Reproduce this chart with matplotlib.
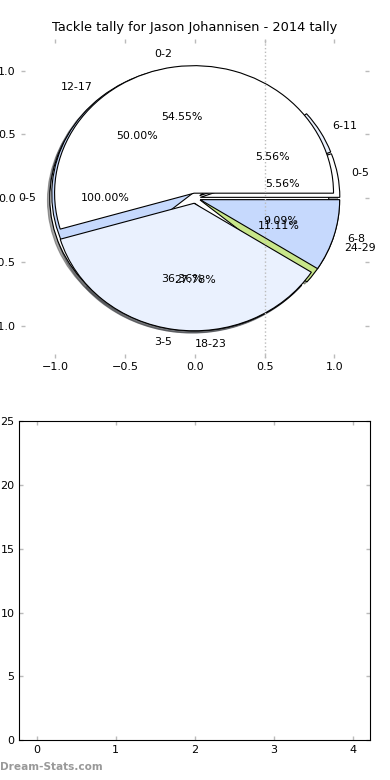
import matplotlib
matplotlib.use("Agg")
import matplotlib.pyplot as plt

# tally buckets, three overlapping pies as in the original
labels_a = ['0-2', '3-5', '6-8']
tally_a = [6, 4, 1]
labels_b = ['0-5', '6-11', '12-17', '18-23', '24-29']
tally_b = [1, 1, 9, 5, 2]
labels_c = ['0-5']
tally_c = [1]

xticks_bar = [0, 1, 2, 3, 4]
yticks_bar = [0, 5, 10, 15, 20, 25]
pie_ticks = [-1.0, -0.5, 0.0, 0.5, 1.0]

COLORS = ['#ffffff', '#eaf1fe', '#c6d9fd', '#dbe7fc', '#c8e68a']
TICK_GREY = '#bbbbbb'

fig = plt.figure(figsize=(3.9, 7.8), dpi=100)

ax = fig.add_axes([0.0526, 0.5415, 0.894, 0.4087])
wp = {'edgecolor': 'black', 'linewidth': 0.8}
tp = {'fontsize': 7.9}
shadow = {'ox': -0.012, 'oy': -0.012, 'label': '_nolegend_'}
for vals, labs in ((tally_c, labels_c), (tally_b, labels_b), (tally_a, labels_a)):
    ax.pie(vals, labels=labs, colors=COLORS[:len(vals)],
           explode=[0.04] * len(vals), autopct='%1.2f%%', shadow=shadow,
           wedgeprops=wp, textprops=tp, frame=True)

ax.axvline(0.5, color=TICK_GREY, linestyle=':', linewidth=1)
ax.set_aspect('auto')
ax.set_frame_on(False)
ax.set_xlim(-1.25, 1.25)
ax.set_ylim(-1.25, 1.25)
ax.set_xticks(pie_ticks)
ax.set_yticks(pie_ticks)
ax.tick_params(direction='in', length=3, width=1, color=TICK_GREY,
               labelsize=8, top=True, right=True)
ax.set_title('Tackle tally for Jason Johannisen - 2014 tally', fontsize=9.3)

ax2 = fig.add_axes([0.0495, 0.0509, 0.9, 0.4094])
ax2.set_xlim(-0.22, 4.22)
ax2.set_ylim(0, 25)
ax2.set_xticks(xticks_bar)
ax2.set_yticks(yticks_bar)
ax2.tick_params(direction='in', length=3, width=1, color=TICK_GREY,
                labelsize=8, top=True, right=True)

fig.text(0.0, 0.0105, 'Dream-Stats.com', color='#999999', fontsize=7.6,
         fontweight='bold', ha='left', va='bottom')

fig.savefig('out.png', dpi=100)
